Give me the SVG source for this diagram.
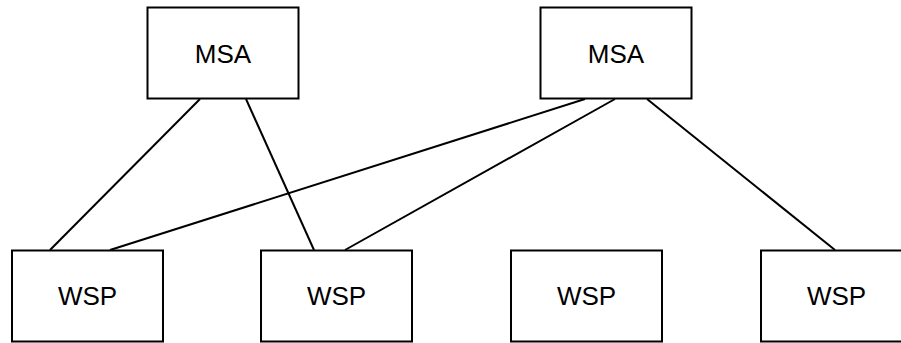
<svg xmlns="http://www.w3.org/2000/svg" width="901" height="343" viewBox="0 0 901 343">
<style>
.box{fill:#fff;stroke:#000;stroke-width:2}
.lbl{font-family:"Liberation Sans",Arial,sans-serif;font-size:26px;fill:#000;text-anchor:middle}
.edge{stroke:#000;stroke-width:2;fill:none}
</style>
<rect x="0" y="0" width="901" height="343" fill="#fff"/>
<g id="connectors">
<line class="edge" x1="200" y1="99" x2="50" y2="250"/>
<line class="edge" x1="246" y1="99" x2="314" y2="250"/>
<line class="edge" x1="585" y1="99" x2="110" y2="250"/>
<line class="edge" x1="615" y1="99" x2="345" y2="250"/>
<line class="edge" x1="647" y1="99" x2="835" y2="250"/>
</g>
<g id="msa1"><rect class="box" x="147.5" y="7.5" width="151" height="91"/><text class="lbl" x="223" y="62.5">MSA</text></g>
<g id="msa2"><rect class="box" x="540.5" y="7.5" width="151" height="91"/><text class="lbl" x="616" y="62.5">MSA</text></g>
<g id="wsp1"><rect class="box" x="12" y="250.5" width="151" height="91"/><text class="lbl" x="87.5" y="305">WSP</text></g>
<g id="wsp2"><rect class="box" x="261" y="250.5" width="151" height="91"/><text class="lbl" x="336.5" y="305">WSP</text></g>
<g id="wsp3"><rect class="box" x="511" y="250.5" width="151" height="91"/><text class="lbl" x="586.5" y="305">WSP</text></g>
<g id="wsp4"><rect class="box" x="761" y="250.5" width="151" height="91"/><text class="lbl" x="836.5" y="305">WSP</text></g>
</svg>
